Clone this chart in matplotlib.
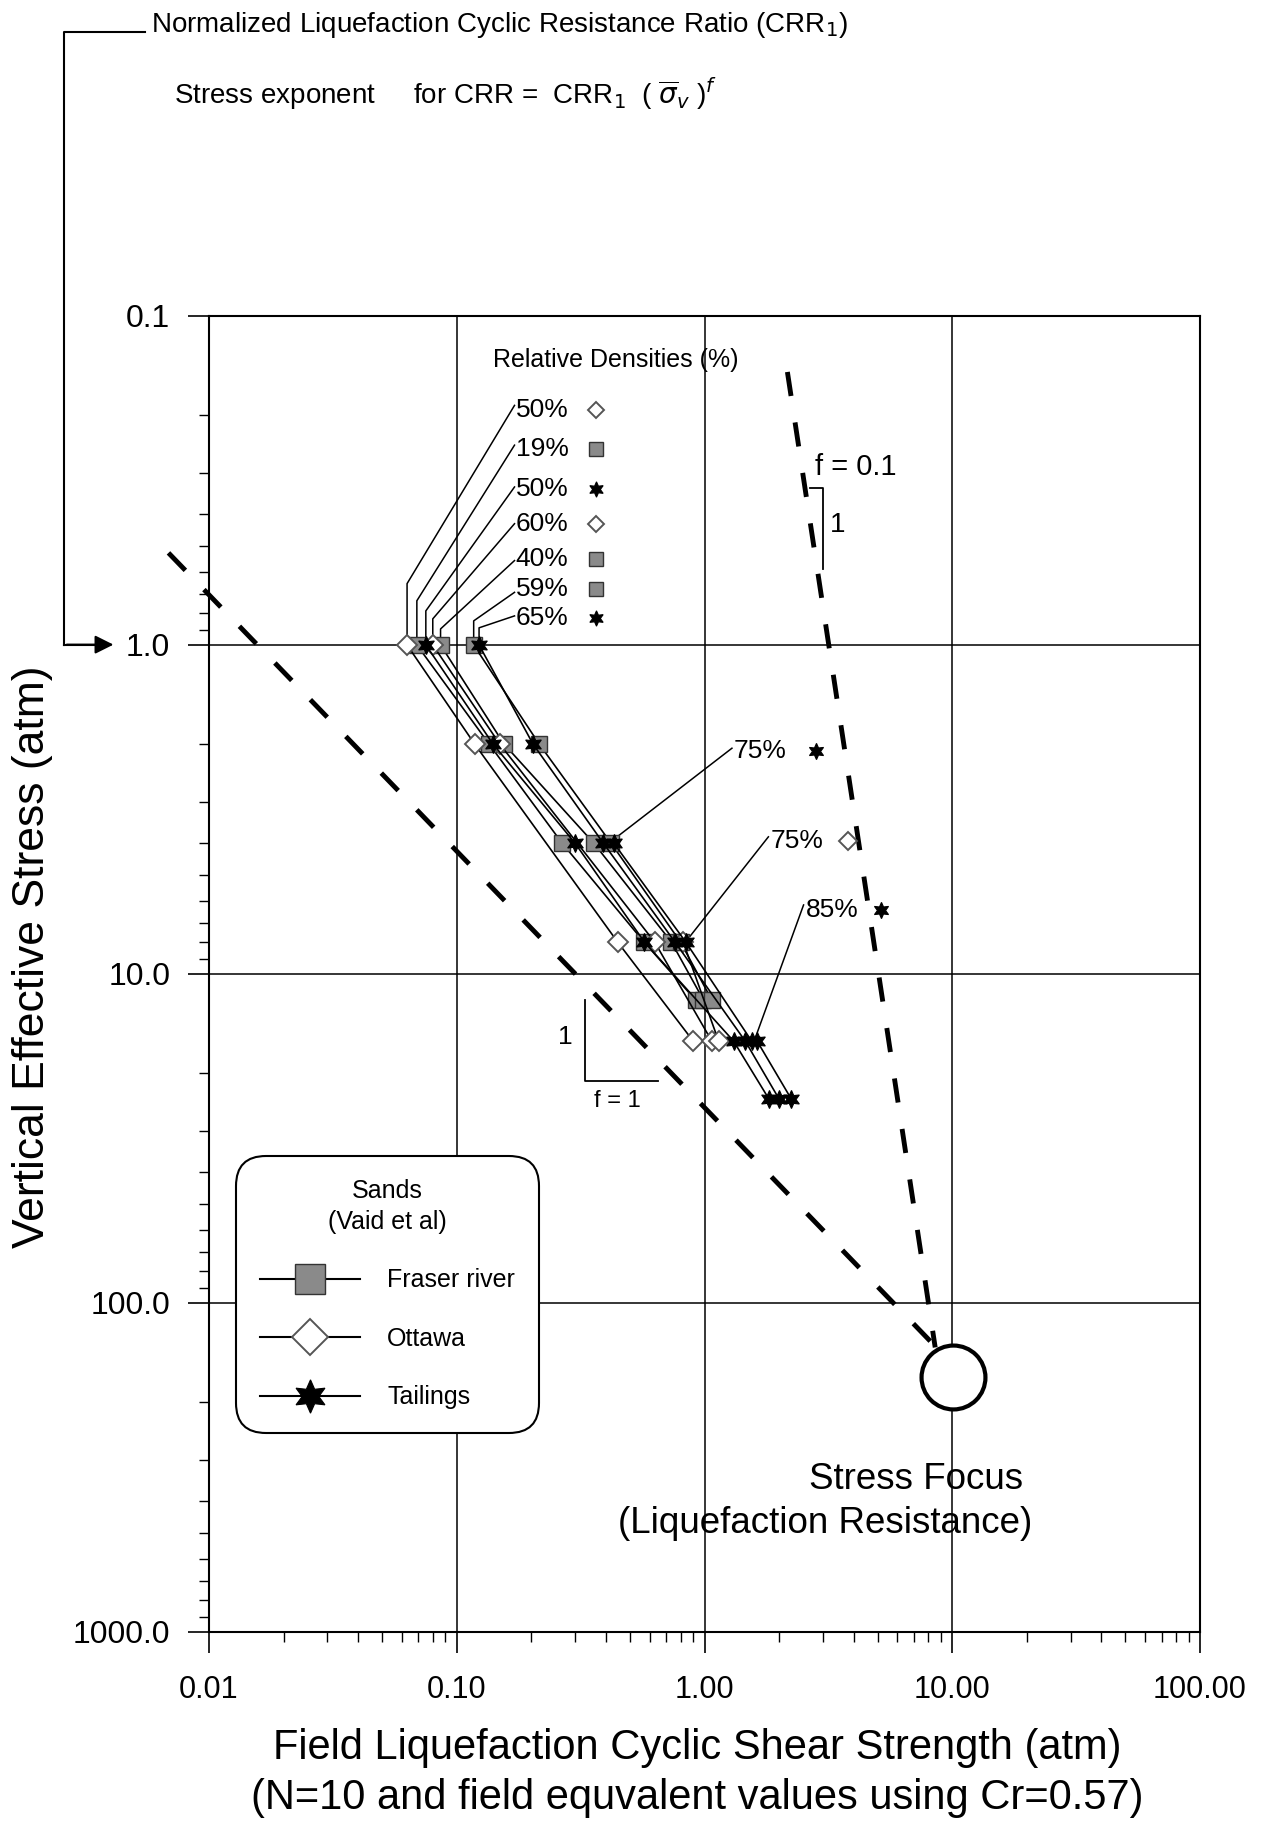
import matplotlib
matplotlib.use("Agg")
import matplotlib.pyplot as plt
from matplotlib.lines import Line2D
from matplotlib.ticker import FixedLocator, FixedFormatter, NullFormatter, LogLocator

plt.rcParams['font.family'] = ['Liberation Sans', 'DejaVu Sans']

# ---- data (strength in atm vs vertical effective stress in atm) ----
fr19_x = [0.069, 0.135, 0.266, 0.57, 0.92]
fr19_y = [1, 2, 4, 8, 12]
fr40_x = [0.086, 0.155, 0.357, 0.735, 0.99]
fr40_y = [1, 2, 4, 8, 12]
fr59_x = [0.117, 0.215, 0.419, 0.80, 1.07]
fr59_y = [1, 2, 4, 8, 12]

ot50_x = [0.063, 0.118, 0.446, 0.90]
ot50_y = [1, 2, 8, 16]
ot60_x = [0.080, 0.149, 0.629, 1.07]
ot60_y = [1, 2, 8, 16]
ot75_x = [0.82, 1.14]
ot75_y = [8, 16]

ta50_x = [0.075, 0.14, 0.30, 0.572, 1.31, 1.82]
ta50_y = [1, 2, 4, 8, 16, 24]
ta65_x = [0.123, 0.203, 0.39, 0.76, 1.46, 2.0]
ta65_y = [1, 2, 4, 8, 16, 24]
ta75_x = [0.43, 0.84, 1.55]
ta75_y = [4, 8, 16]
ta85_x = [1.63, 2.24]
ta85_y = [16, 24]

# stress exponent reference lines and stress focus
f1_x = [0.00686, 8.8]
f1_y = [0.525, 138.7]
f01_x = [2.16, 8.53]
f01_y = [0.148, 136.5]
focus_x = [10.1]
focus_y = [167.5]

# relative density labels at the top (order of leaders)
top_labels = ['50%', '19%', '50%', '60%', '40%', '59%', '65%']
top_kind = ['ot', 'fr', 'ta', 'ot', 'fr', 'fr', 'ta']
top_target_x = [0.063, 0.069, 0.075, 0.080, 0.086, 0.117, 0.123]
top_kink_y = [0.651, 0.734, 0.788, 0.833, 0.894, 0.845, 0.887]
top_label_y = [0.187, 0.247, 0.331, 0.428, 0.554, 0.692, 0.816]
top_text_y = [0.193, 0.253, 0.336, 0.428, 0.547, 0.676, 0.828]
top_label_x = 0.171
top_symbol_x = 0.365

right_labels = ['75%', '75%', '85%']
right_kind = ['ta', 'ot', 'ta']
right_label_x = [1.29, 1.81, 2.51]
right_label_y = [2.06, 3.83, 6.17]
right_text_y = [2.10, 3.93, 6.40]
right_target_x = [0.43, 0.86, 1.60]
right_target_y = [3.9, 7.8, 15.7]
right_symbol_x = [2.82, 3.79, 5.14]

x_ticks = [0.01, 0.1, 1, 10, 100]
x_ticklabels = ['0.01', '0.10', '1.00', '10.00', '100.00']
y_ticks = [0.1, 1, 10, 100, 1000]
y_ticklabels = ['0.1', '1.0', '10.0', '100.0', '1000.0']

styles = {
    'fr': dict(marker='s', markersize=12, markerfacecolor='#8a8a8a', markeredgecolor='#333333', markeredgewidth=1.0),
    'ot': dict(marker='D', markersize=10, markerfacecolor='white', markeredgecolor='#555555', markeredgewidth=1.4),
    'ta': dict(marker=(6, 1, 0), markersize=13, markerfacecolor='black', markeredgecolor='black', markeredgewidth=0.8),
}

fig = plt.figure(figsize=(12.73, 18.21), dpi=100)
ax = fig.add_axes([0.1642, 0.1038, 0.7785, 0.7227])
ax.set_xscale('log')
ax.set_yscale('log')
ax.set_xlim(0.01, 100)
ax.set_ylim(1000, 0.1)

series = [
    (fr19_x, fr19_y, 'fr'), (fr40_x, fr40_y, 'fr'), (fr59_x, fr59_y, 'fr'),
    (ot50_x, ot50_y, 'ot'), (ot60_x, ot60_y, 'ot'), (ot75_x, ot75_y, 'ot'),
    (ta50_x, ta50_y, 'ta'), (ta65_x, ta65_y, 'ta'), (ta75_x, ta75_y, 'ta'), (ta85_x, ta85_y, 'ta'),
]
for xs, ys, k in series:
    ax.plot(xs, ys, color='black', lw=1.2, zorder=3, **styles[k])

# dashed stress-exponent lines
ax.plot(f1_x, f1_y, color='black', lw=3.5, ls=(0, (5, 5.5)), clip_on=False, zorder=2)
ax.plot(f01_x, f01_y, color='black', lw=3.5, ls=(0, (5, 5.5)), clip_on=False, zorder=2)
ax.plot(focus_x, focus_y, 'o', markersize=46, markerfacecolor='white',
        markeredgecolor='black', markeredgewidth=3, zorder=4)

# grid and ticks
ax.grid(True, which='major', color='black', lw=1.1)
ax.xaxis.set_major_locator(FixedLocator(x_ticks))
ax.xaxis.set_major_formatter(FixedFormatter(x_ticklabels))
ax.yaxis.set_major_locator(FixedLocator(y_ticks))
ax.yaxis.set_major_formatter(FixedFormatter(y_ticklabels))
ax.xaxis.set_minor_locator(LogLocator(base=10, subs=range(2, 10), numticks=20))
ax.yaxis.set_minor_locator(LogLocator(base=10, subs=range(2, 10), numticks=20))
ax.xaxis.set_minor_formatter(NullFormatter())
ax.yaxis.set_minor_formatter(NullFormatter())
ax.tick_params(axis='x', which='major', direction='out', length=15, width=1.2, pad=16, labelsize=22)
ax.tick_params(axis='x', which='minor', direction='out', length=7, width=1.0)
ax.tick_params(axis='y', which='major', direction='out', length=15, width=1.2, pad=13, labelsize=23)
ax.tick_params(axis='y', which='minor', direction='out', length=7, width=1.0)
for s in ax.spines.values():
    s.set_linewidth(1.5)

# relative density labels
ax.text(0.140, 0.136, 'Relative Densities (%)', fontsize=18, va='center', ha='left')
for lab, k, tx, ky, ly, ty in zip(top_labels, top_kind, top_target_x, top_kink_y,
                                  top_label_y, top_text_y):
    ax.plot([top_label_x, tx, tx], [ly, ky, 0.97], color='black', lw=1.1, zorder=2)
    ax.text(top_label_x * 1.01, ty, lab, fontsize=19, va='center', ha='left')
    st = dict(styles[k])
    st['markersize'] = st['markersize'] * 0.85
    ax.plot([top_symbol_x], [ty], color='black', **st)

for lab, k, lx, ly, tyy, tx, ty, sx in zip(right_labels, right_kind, right_label_x, right_label_y,
                                            right_text_y, right_target_x, right_target_y,
                                            right_symbol_x):
    ax.plot([lx, tx], [ly, ty], color='black', lw=1.1, zorder=2)
    ax.text(lx * 1.02, tyy, lab, fontsize=19, va='center', ha='left')
    st = dict(styles[k])
    st['markersize'] = st['markersize'] * 0.9
    ax.plot([sx], [tyy], color='black', **st)

# f = 1 slope triangle
ax.plot([0.329, 0.329, 0.651], [12.0, 21.2, 21.2], color='black', lw=1.3)
ax.text(0.274, 15.5, '1', fontsize=19, ha='center', va='center')
ax.text(0.443, 24.4, 'f = 1', fontsize=17, ha='center', va='center')

# f = 0.1 slope bracket
ax.plot([2.67, 3.02, 3.02], [0.334, 0.334, 0.586], color='black', lw=1.3)
ax.text(2.80, 0.287, 'f = 0.1', fontsize=21, ha='left', va='center')
ax.text(3.22, 0.432, '1', fontsize=20, ha='left', va='center')

# stress focus
ax.text(7.11, 345, 'Stress Focus', fontsize=26.5, ha='center', va='center')
ax.text(3.06, 467, '(Liquefaction Resistance)', fontsize=26.5, ha='center', va='center')

# legend
handles = [
    Line2D([], [], color='black', lw=1.5, **dict(styles['fr'], markersize=21)),
    Line2D([], [], color='black', lw=1.5, **dict(styles['ot'], markersize=18)),
    Line2D([], [], color='black', lw=1.5, **dict(styles['ta'], markersize=24)),
]
leg = ax.legend(handles, ['Fraser river', 'Ottawa', 'Tailings'], title='Sands\n(Vaid et al)',
                loc='upper left', bbox_to_anchor=(0.027, 0.362), borderaxespad=0,
                fontsize=18, title_fontsize=18, handlelength=4.0, handletextpad=1.1,
                labelspacing=1.38, borderpad=0.95, fancybox=True, framealpha=1,
                edgecolor='black')
leg.get_title().set_multialignment('center')
leg.get_title().set_linespacing(1.35)
leg.get_frame().set_linewidth(1.5)
leg.get_frame().set_boxstyle('round', pad=0, rounding_size=1.2)
leg.set_zorder(6)

# axis labels
fig.text(0.0255, 0.4745, 'Vertical Effective Stress (atm)', rotation=90, fontsize=32,
         ha='center', va='center')
fig.text(0.5475, 0.040, 'Field Liquefaction Cyclic Shear Strength (atm)', fontsize=30,
         ha='center', va='center')
fig.text(0.5475, 0.0126, '(N=10 and field equvalent values using Cr=0.57)', fontsize=30,
         ha='center', va='center')

# header bracket with arrow pointing at the 1.0 stress
fig.add_artist(Line2D([0.1139, 0.0503, 0.0503], [0.9822, 0.9822, 0.646], color='black', lw=1.5))
fig.add_artist(Line2D([0.0503, 0.075], [0.646, 0.646], color='black', lw=1.5))
ax.annotate('', xy=(0.0913, 0.646), xytext=(0.0503, 0.646), xycoords='figure fraction',
            arrowprops=dict(arrowstyle='-|>', color='black', lw=1.5, mutation_scale=28))
fig.text(0.1186, 0.986, r'Normalized Liquefaction Cyclic Resistance Ratio (CRR$_1$)',
         fontsize=20, ha='left', va='center')
fig.text(0.1367, 0.9484, r'Stress exponent     for CRR =  CRR$_1$  ( $\overline{\sigma}_v$ )$^f$',
         fontsize=20, ha='left', va='center')

fig.savefig('out.png', dpi=100)
